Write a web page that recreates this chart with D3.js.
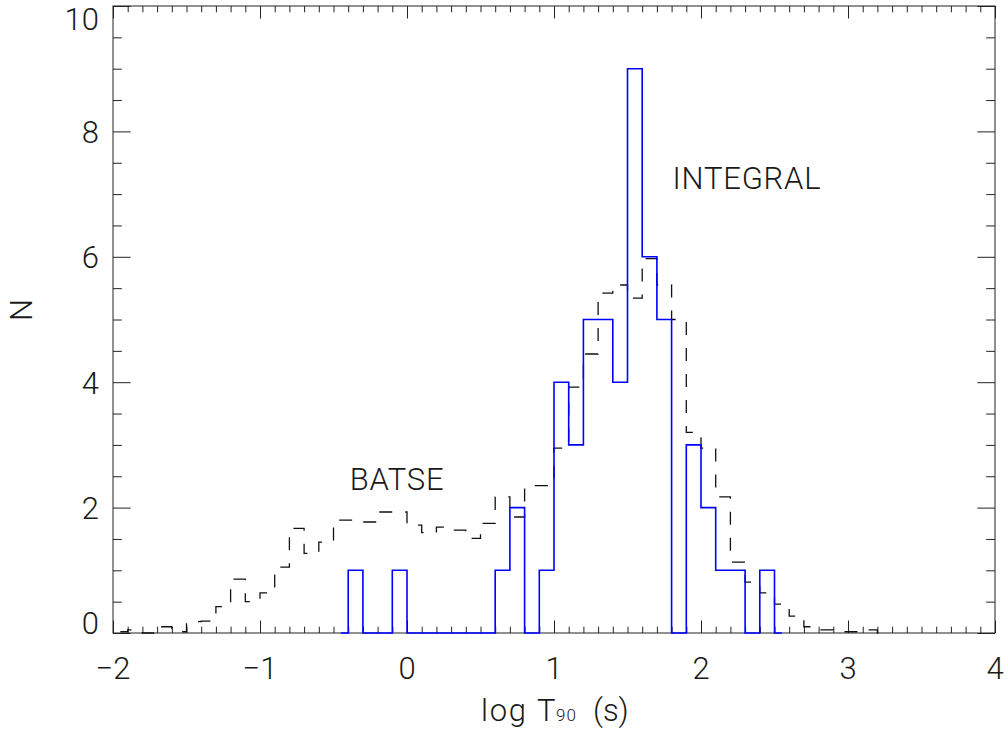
<!DOCTYPE html>
<html><head><meta charset="utf-8">
<script src="https://cdn.jsdelivr.net/npm/d3@7"></script>
<style>
html,body{margin:0;padding:0;background:#fff;}
text{font-family:Roboto,"DejaVu Sans",sans-serif;font-weight:300;fill:#1a1a1a;}
</style></head>
<body><svg id="c" width="1007" height="733"></svg>
<script>
// BATSE (dashed) histogram: bin centres (log T90) and normalised counts
const batseX = [-1.95,-1.85,-1.75,-1.65,-1.55,-1.45,-1.35,-1.25,-1.15,-1.05,
  -0.95,-0.85,-0.75,-0.65,-0.55,-0.45,-0.35,-0.25,-0.15,-0.05,
  0.05,0.15,0.25,0.35,0.45,0.55,0.65,0.75,0.85,0.95,
  1.05,1.15,1.25,1.35,1.45,1.55,1.65,1.75,1.85,1.95,
  2.05,2.15,2.25,2.35,2.45,2.55,2.65,2.75,2.85,2.95,
  3.05,3.15,3.25];
const batseN = [0.02,0.05,0.0,0.1,0.02,0.18,0.19,0.42,0.86,0.5,
  0.64,1.05,1.67,1.27,1.45,1.8,1.8,1.77,1.93,1.93,
  1.72,1.6,1.69,1.64,1.51,1.75,2.17,1.85,2.35,2.35,
  2.95,3.92,4.45,5.42,5.55,5.34,5.97,5.55,5.0,3.2,
  2.95,2.17,1.13,0.81,0.64,0.46,0.27,0.1,0.05,0.02,
  0.02,0.05,0.0];
// INTEGRAL (blue) histogram
const integralX = [-0.45,-0.35,-0.25,-0.15,-0.05,0.05,0.15,0.25,0.35,0.45,
  0.55,0.65,0.75,0.85,0.95,1.05,1.15,1.25,1.35,1.45,
  1.55,1.65,1.75,1.85,1.95,2.05,2.15,2.25,2.35,2.45,2.55];
const integralN = [0,1,0,0,1,0,0,0,0,0,
  0,1,2,0,1,4,3,5,5,4,
  9,6,5,0,3,2,1,1,0,1,0];
// axes
const xMajor = [-2,-1,0,1,2,3,4];
const xMajorLabels = ["\u22122","\u22121","0","1","2","3","4"];
const yMajor = [0,2,4,6,8,10];
const yMajorLabels = ["0","2","4","6","8","10"];
const xMinorStep = 0.1, yMinorStep = 0.5;
const labels = [{t:"BATSE", x:-0.07, y:2.28, w:94}, {t:"INTEGRAL", x:2.31, y:7.08, w:148}];

const L=113, R=995, T=6, B=633;
const svg = d3.select("#c");
svg.append("rect").attr("width",1007).attr("height",733).attr("fill","#fff");
const x = d3.scaleLinear().domain([-2,4]).range([L,R]);
const y = d3.scaleLinear().domain([0,10]).range([B,T]);

const xMinor = d3.range(-2, 4.0001, xMinorStep).map(v=>+v.toFixed(2)).filter(v=>Math.abs(v-Math.round(v))>1e-6);
const yMinor = d3.range(0, 10.0001, yMinorStep).filter(v=>v%2!==0);

const tickCol = "#222";
function addAxis(gen, tx, ty){
  const g = svg.append("g").attr("transform",`translate(${tx},${ty})`).call(gen);
  g.select(".domain").remove();
  g.selectAll("line").attr("stroke",tickCol).attr("stroke-width",1);
  g.selectAll("text").remove();
  return g;
}
addAxis(d3.axisBottom(x).tickValues(xMajor).tickSize(-12.5).tickSizeOuter(0), 0, B);
addAxis(d3.axisBottom(x).tickValues(xMinor).tickSize(-6.3).tickSizeOuter(0), 0, B);
addAxis(d3.axisTop(x).tickValues(xMajor).tickSize(-12.5).tickSizeOuter(0), 0, T);
addAxis(d3.axisTop(x).tickValues(xMinor).tickSize(-6.3).tickSizeOuter(0), 0, T);
addAxis(d3.axisLeft(y).tickValues(yMajor).tickSize(-17.6).tickSizeOuter(0), L, 0);
addAxis(d3.axisLeft(y).tickValues(yMinor).tickSize(-8.8).tickSizeOuter(0), L, 0);
addAxis(d3.axisRight(y).tickValues(yMajor).tickSize(-17.6).tickSizeOuter(0), R, 0);
addAxis(d3.axisRight(y).tickValues(yMinor).tickSize(-8.8).tickSizeOuter(0), R, 0);

svg.append("rect").attr("x",L).attr("y",T).attr("width",R-L).attr("height",B-T)
  .attr("fill","none").attr("stroke",tickCol).attr("stroke-width",1);

// histograms
const line = d3.line().x(d=>x(d[0])).y(d=>y(d[1])).curve(d3.curveStep);
svg.append("defs").append("clipPath").attr("id","clip").append("rect")
  .attr("x",L).attr("y",T-2).attr("width",R-L).attr("height",B-T+4);
svg.append("path").attr("clip-path","url(#clip)")
  .attr("d", line(batseX.map((v,i)=>[v,batseN[i]])))
  .attr("fill","none").attr("stroke","#111").attr("stroke-width",1.3)
  .attr("stroke-dasharray","13,13");
svg.append("path").attr("clip-path","url(#clip)")
  .attr("d", line(integralX.map((v,i)=>[v,integralN[i]])))
  .attr("fill","none").attr("stroke","#0000ff").attr("stroke-width",1.6);

// tick labels
const fs = 31;
svg.selectAll(".xl").data(xMajor).enter().append("text")
  .attr("x",d=>x(d)).attr("y",679).attr("text-anchor","middle")
  .attr("font-size",fs).text((d,i)=>xMajorLabels[i]);
svg.selectAll(".yl").data(yMajor).enter().append("text")
  .attr("x",99).attr("y",d=>Math.min(Math.max(y(d)+11.5,30),633.5)).attr("text-anchor","end")
  .attr("font-size",fs).text((d,i)=>yMajorLabels[i]);

// axis titles
svg.append("text").attr("transform","translate(32,310) rotate(-90)")
  .attr("text-anchor","middle").attr("font-size",fs).text("N");
const xt = svg.append("text").attr("y",721).attr("font-size",fs);
xt.append("tspan").attr("x",481).attr("textLength",45).attr("lengthAdjust","spacing").text("log");
xt.append("tspan").attr("x",537).text("T");
xt.append("tspan").attr("x",556).attr("font-size",17).attr("textLength",20).text("90");
xt.append("tspan").attr("x",593).text("(s)");

// annotations
labels.forEach(l=>{
  svg.append("text").attr("x",x(l.x)-l.w/2).attr("y",y(l.y))
    .attr("textLength",l.w).attr("lengthAdjust","spacing")
    .attr("font-size",fs).text(l.t);
});
</script></body></html>
